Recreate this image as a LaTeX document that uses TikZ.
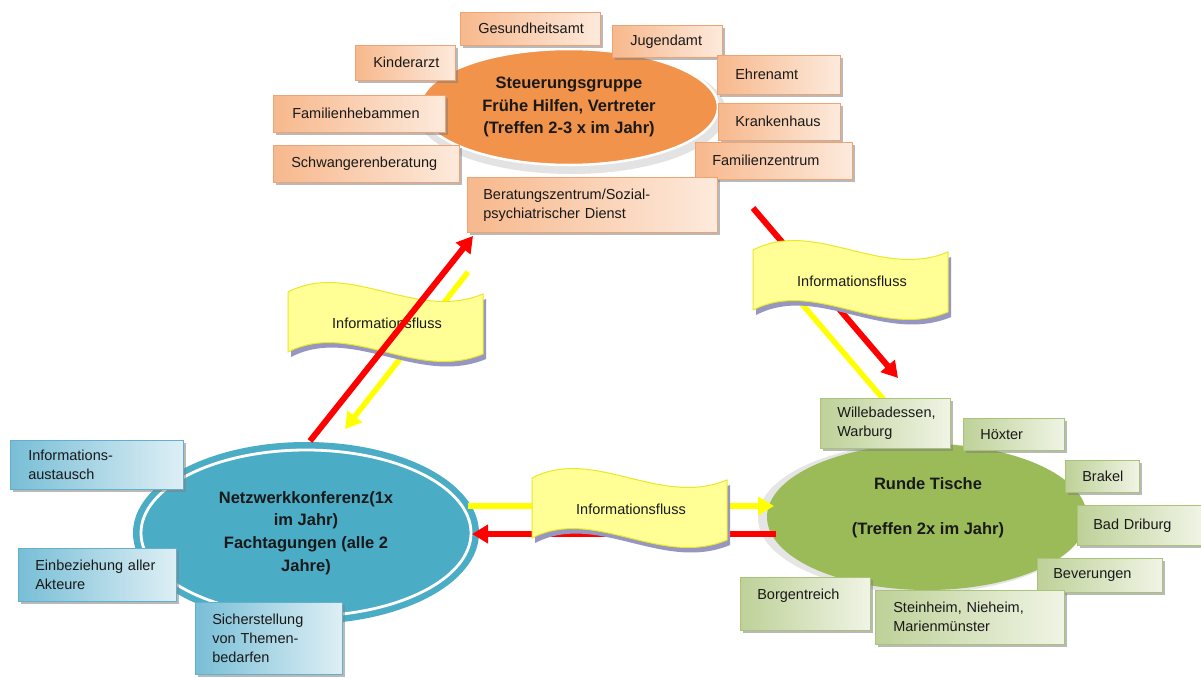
\documentclass[tikz,border=0pt]{standalone}
\usepackage{fontspec}
\setmainfont{Liberation Sans}
\usetikzlibrary{shapes.geometric,arrows.meta,shadows}
\hyphenpenalty=10000
\exhyphenpenalty=10000
\definecolor{oD}{RGB}{247,184,140}
\definecolor{oL}{RGB}{253,234,220}
\definecolor{oE}{RGB}{236,164,118}
\definecolor{bD}{RGB}{120,190,214}
\definecolor{bL}{RGB}{222,239,245}
\definecolor{bE}{RGB}{100,176,202}
\definecolor{gD}{RGB}{190,209,152}
\definecolor{gL}{RGB}{240,244,229}
\definecolor{gE}{RGB}{170,195,122}
\definecolor{orE}{RGB}{241,147,74}
\definecolor{blE}{RGB}{75,172,198}
\definecolor{grE}{RGB}{155,187,89}
\definecolor{arrRed}{RGB}{255,0,0}
\definecolor{arrYel}{RGB}{255,255,0}
\definecolor{banFill}{RGB}{255,255,150}
\definecolor{banEdge}{RGB}{232,232,40}
\definecolor{banShadow}{RGB}{150,150,192}
\definecolor{txtC}{RGB}{25,25,25}
\tikzset{
  txt/.style={font=\fontsize{14.5}{19}\selectfont, text=txtC},
  btxt/.style={font=\fontsize{16.5}{22.7}\selectfont\bfseries, text=txtC},
  boxbase/.style={rectangle, anchor=north west, align=left, inner ysep=1pt, txt,
    line width=0.6pt,
    drop shadow={shadow xshift=2.5pt, shadow yshift=-3pt, fill=black!50, opacity=.55}},
  obox/.style={boxbase, draw=oE, left color=oD, right color=oL},
  bbox/.style={boxbase, draw=bE, left color=bD, right color=bL},
  gbox/.style={boxbase, draw=gE, left color=gD, right color=gL},
  sz/.style n args={4}{minimum width=#1pt, minimum height=#2pt, inner xsep=#3pt, text width=#4pt},
  redarrow/.style={draw=arrRed, line width=6pt, -{Triangle[length=16pt,width=18pt]}},
  yelarrow/.style={draw=arrYel, line width=5.5pt, -{Triangle[length=16pt,width=18pt]}},
  yelline/.style={draw=arrYel, line width=5.5pt},
  banner/.style={fill=banFill, draw=banEdge, line width=1pt},
  bshadow/.style={fill=banShadow},
}
\newcommand\infobanner[3]{%
  \begin{scope}[shift={(#2,#3)}]
    \fill[bshadow] (3,5) .. controls (65,-27) and (131,35) .. (198,7) -- (198,67)
      .. controls (131,95) and (65,33) .. (3,65) -- cycle;
    \filldraw[banner] (0,0) .. controls (62,-32) and (128,30) .. (195,2) -- (195,62)
      .. controls (128,90) and (62,28) .. (0,60) -- cycle;
    \node[txt] (#1) at (99,31) {Informationsfluss};
  \end{scope}}
\begin{document}
\begin{tikzpicture}[x=1pt,y=-1pt]
\useasboundingbox (0,0) rectangle (1201,677);
\fill[white] (0,0) rectangle (1201,677);

% ellipses
\fill[gray!22] (571,112) ellipse [x radius=155pt, y radius=62pt];
\node[ellipse, fill=orE, draw=white, line width=2.5pt, minimum width=298pt, minimum height=116pt,
  inner sep=0pt, btxt, align=center] (steu) at (569,107)
  {Steuerungsgruppe\\Frühe Hilfen, Vertreter\\(Treffen 2-3 x im Jahr)};

\node[ellipse, fill=blE, minimum width=346pt, minimum height=182pt, inner sep=0pt,
  btxt, align=center] (netz) at (306,533)
  {Netzwerkkonferenz(1x\\im Jahr)\\Fachtagungen (alle 2\\Jahre)};
\draw[white, line width=2.8pt] (netz.center) ellipse [x radius=165pt, y radius=83pt];

\fill[gray!20] (922,518) ellipse [x radius=164pt, y radius=75pt];
\node[ellipse, fill=grE, minimum width=320pt, minimum height=146pt, inner sep=0pt] (runde) at (927,517) {};
\node[btxt, align=center] (rt) at (928,508) {Runde Tische\\[22pt](Treffen 2x im Jahr)};

% arrow end points
\coordinate (r1s) at (310,441);
\coordinate (r1e) at (473,236);
\coordinate (y1s) at (468,272);
\coordinate (y1e) at (345,429);
\coordinate (r2s) at (753,208);
\coordinate (r2e) at (898,378);
\coordinate (y2s) at (790,290);
\coordinate (y2e) at (884,400);
\coordinate (y3s) at (468,506);
\coordinate (y3e) at (774,506);
\coordinate (r3s) at (776,534);
\coordinate (r3e) at (472,534);

% arrows behind the banners
\draw[yelarrow] (y1s) -- (y1e);
\draw[redarrow] (r2s) -- (r2e);
\draw[yelline] (y2s) -- (y2e);
\draw[yelarrow] (y3s) -- (y3e);
\draw[redarrow] (r3s) -- (r3e);

% banners
\infobanner{ban1}{288}{292}
\infobanner{ban2}{753}{250}
\infobanner{ban3}{532}{478}

% orange boxes
\node[obox, sz={140}{33}{18}{104}] (ges) at (460,12) {Gesundheitsamt};
\node[obox, sz={100}{35}{18}{64}] (kind) at (355,45) {Kinderarzt};
\node[obox, sz={110}{32}{18}{74}] (jug) at (612,25) {Jugendamt};
\node[obox, sz={123}{39}{18}{87}] (ehr) at (717,55) {Ehrenamt};
\node[obox, sz={122}{37}{17}{88}] (kra) at (718,103) {Krankenhaus};
\node[obox, sz={172}{37}{19}{134}] (fam) at (273,95) {Familienhebammen};
\node[obox, sz={186}{37}{18}{150}] (schw) at (273,145) {Schwangerenberatung};
\node[obox, sz={157}{37}{17}{123}] (famz) at (695,142) {Familienzentrum};
\node[obox, sz={250}{55}{16}{218}] (ber) at (467,177) {Beratungszentrum/Sozial-\\psychiatrischer Dienst};

% blue boxes
\node[bbox, sz={173}{49}{18}{137}] (info) at (10,440) {Informations-\\austausch};
\node[bbox, sz={158}{53}{17}{124}] (einb) at (18,548) {Einbeziehung aller\\Akteure};
\node[bbox, sz={147}{72}{17}{113}] (sich) at (195,602) {Sicherstellung\\von Themen-\\bedarfen};

% green boxes
\node[gbox, sz={130}{50}{17}{96}] (will) at (820,398) {Willebadessen,\\Warburg};
\node[gbox, sz={101}{32}{17}{67}] (hox) at (963,418) {Höxter};
\node[gbox, sz={74}{32}{17}{40}] (brak) at (1065,460) {Brakel};
\node[gbox, sz={124}{40}{16}{92}] (badd) at (1077,505) {Bad Driburg};
\node[gbox, sz={125}{34}{16}{93}] (bev) at (1037,558) {Beverungen};
\node[gbox, sz={130}{53}{17}{96}] (borg) at (740,577) {Borgentreich\\\mbox{}};
\node[gbox, sz={189}{54}{18}{153}] (stein) at (875,590) {Steinheim, Nieheim,\\Marienmünster};

% red arrow over the left banner
\draw[redarrow] (r1s) -- (r1e);
\end{tikzpicture}
\end{document}
